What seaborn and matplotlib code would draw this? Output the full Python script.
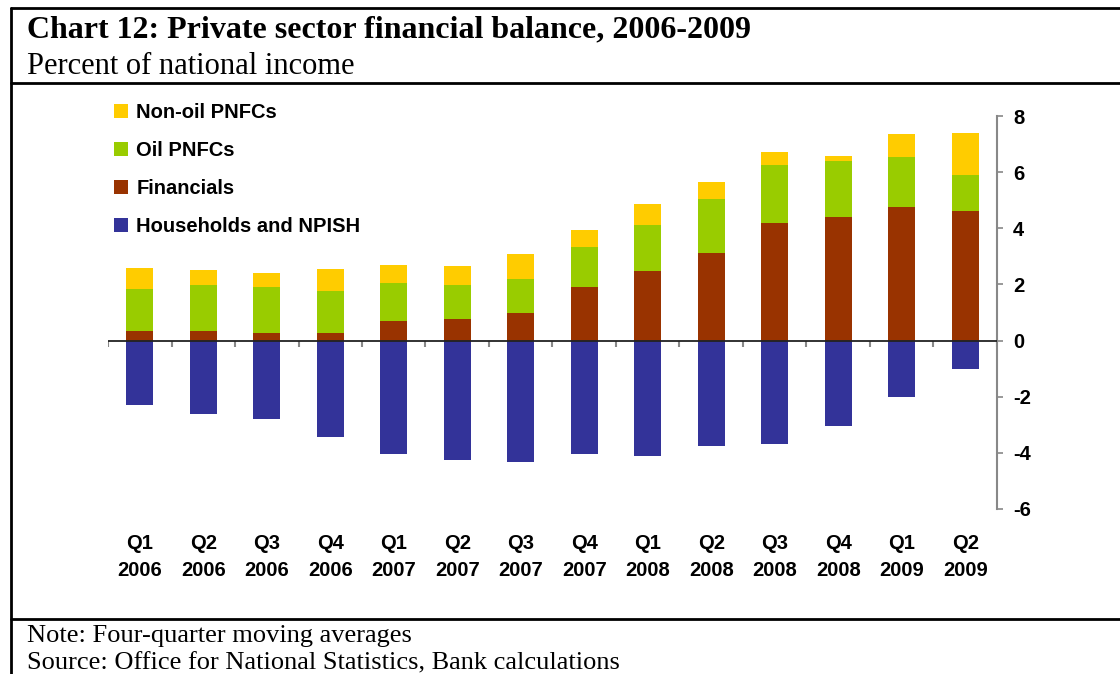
import matplotlib
matplotlib.use('Agg')
import matplotlib.pyplot as plt
from matplotlib.lines import Line2D
import seaborn as sns
import pandas as pd
import numpy as np

# 数据（四季度移动平均，占国民收入的百分比）
quarters = ['Q1\n2006', 'Q2\n2006', 'Q3\n2006', 'Q4\n2006',
            'Q1\n2007', 'Q2\n2007', 'Q3\n2007', 'Q4\n2007',
            'Q1\n2008', 'Q2\n2008', 'Q3\n2008', 'Q4\n2008',
            'Q1\n2009', 'Q2\n2009']
households = [-2.31, -2.60, -2.81, -3.45, -4.03, -4.24, -4.31,
              -4.03, -4.10, -3.74, -3.67, -3.03, -2.02, -1.02]
financials = [0.33, 0.33, 0.26, 0.26, 0.69, 0.76, 0.98,
              1.90, 2.48, 3.12, 4.19, 4.40, 4.76, 4.62]
oil_pnfcs = [1.50, 1.65, 1.64, 1.50, 1.36, 1.22, 1.21,
             1.43, 1.64, 1.93, 2.07, 2.00, 1.79, 1.28]
non_oil_pnfcs = [0.75, 0.53, 0.50, 0.79, 0.64, 0.67, 0.89,
                 0.61, 0.75, 0.60, 0.47, 0.18, 0.82, 1.50]
y_ticks = [-6, -4, -2, 0, 2, 4, 6, 8]

colors = {
    'Non-oil PNFCs': '#FFCC00',
    'Oil PNFCs': '#99CC00',
    'Financials': '#993300',
    'Households and NPISH': '#333399',
}

df = pd.DataFrame({
    'quarter': quarters,
    'households': households,
    'financials': financials,
    'oil': oil_pnfcs,
    'non_oil': non_oil_pnfcs,
})
# 堆叠：从上往下依次覆盖
df['fin_top'] = df['financials']
df['oil_top'] = df['fin_top'] + df['oil']
df['non_oil_top'] = df['oil_top'] + df['non_oil']

sns.set_style('white')
plt.rcParams['font.family'] = ['Liberation Sans', 'DejaVu Sans']
plt.rcParams['text.color'] = 'black'

W, H = 1120, 674
fig = plt.figure(figsize=(W / 100, H / 100), dpi=100)
ax = fig.add_axes([108 / W, 1 - 509 / H, (997 - 108) / W, (509 - 116) / H])

bar_kw = dict(x='quarter', width=0.43, saturation=1, linewidth=0, ax=ax)
sns.barplot(data=df, y='non_oil_top', color=colors['Non-oil PNFCs'],
            label='Non-oil PNFCs', **bar_kw)
sns.barplot(data=df, y='oil_top', color=colors['Oil PNFCs'],
            label='Oil PNFCs', **bar_kw)
sns.barplot(data=df, y='fin_top', color=colors['Financials'],
            label='Financials', **bar_kw)
sns.barplot(data=df, y='households', color=colors['Households and NPISH'],
            label='Households and NPISH', **bar_kw)

n = len(quarters)
ax.set_xlim(-0.5, n - 0.5)
ax.set_ylim(-6, 8)
ax.set_xlabel('')
ax.set_ylabel('')

# 零线和分类间隔刻度
ax.vlines(np.arange(n + 1) - 0.5, 0, -0.22, color='#888888', lw=1.5, zorder=3)
ax.axhline(0, color='#222222', lw=1.3, zorder=4)

# 坐标轴
for s in ['left', 'top', 'bottom']:
    ax.spines[s].set_visible(False)
ax.spines['right'].set_visible(True)
ax.spines['right'].set_color('#888888')
ax.spines['right'].set_linewidth(1.5)
ax.yaxis.tick_right()
ax.set_yticks(y_ticks)
ax.set_yticklabels([str(t) for t in y_ticks])
ax.tick_params(axis='y', direction='out', length=4.5, width=1.2,
               color='#888888', labelcolor='black', pad=7, labelsize=14.5)
ax.tick_params(axis='x', length=0, pad=18, labelsize=14.5, labelcolor='black')
for lab in ax.get_yticklabels() + ax.get_xticklabels():
    lab.set_fontweight('bold')
plt.setp(ax.get_xticklabels(), linespacing=1.55)

# 图例
leg = ax.legend(loc='upper left', bbox_to_anchor=(114 / W, 1 - 103 / H),
                bbox_transform=fig.transFigure, frameon=False,
                borderpad=0, borderaxespad=0, handlelength=0.7,
                handleheight=0.7, handletextpad=0.4, labelspacing=0.95,
                prop={'weight': 'bold', 'size': 14.5})
for t in leg.get_texts():
    t.set_color('black')

# 标题、注释和边框
serif = ['Liberation Serif', 'DejaVu Serif']
fig.text(27 / W, 1 - 30 / H, 'Chart 12: Private sector financial balance, 2006-2009',
         family=serif, weight='bold', size=23, va='center', color='black')
fig.text(27 / W, 1 - 66 / H, 'Percent of national income',
         family=serif, size=22, va='center', color='black')
fig.text(27 / W, 1 - 636 / H, 'Note: Four-quarter moving averages',
         family=serif, size=19, va='center', color='black')
fig.text(27 / W, 1 - 663 / H, 'Source: Office for National Statistics, Bank calculations',
         family=serif, size=19, va='center', color='black')

for y in [8, 83, 619]:
    fig.add_artist(Line2D([11 / W, 1], [1 - y / H, 1 - y / H],
                          transform=fig.transFigure, color='black', lw=2))
fig.add_artist(Line2D([11 / W, 11 / W], [1 - 8 / H, 0],
                      transform=fig.transFigure, color='black', lw=2))

fig.savefig('out.png', dpi=100)
plt.close(fig)
